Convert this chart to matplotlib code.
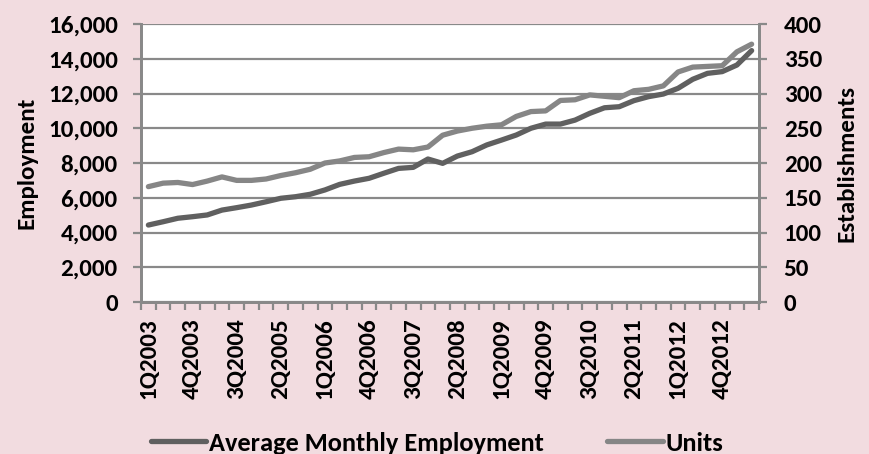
import matplotlib
matplotlib.use("Agg")
import matplotlib.pyplot as plt
from matplotlib.ticker import FuncFormatter, MultipleLocator

plt.rcParams['font.family'] = ['Carlito', 'DejaVu Sans']
plt.rcParams['font.weight'] = 'bold'

# Quarters 1Q2003 .. 2Q2013
quarters = [f"{q}Q{y}" for y in range(2003, 2014) for q in range(1, 5)][:42]

# Average monthly employment (left axis)
employment = [4430, 4620, 4820, 4910, 5010, 5290, 5430, 5580, 5770, 5970,
              6060, 6200, 6450, 6770, 6960, 7120, 7410, 7690, 7750, 8230,
              7980, 8400, 8650, 9040, 9320, 9610, 10000, 10240, 10240, 10470,
              10860, 11180, 11240, 11590, 11820, 11970, 12300, 12820, 13160, 13260,
              13640, 14470]

# Units / establishments (right axis)
units = [166, 171, 172, 169, 174, 180, 175, 175, 177, 182,
         186, 191, 200, 203, 208, 209, 215, 220, 219, 223,
         240, 246, 250, 253, 255, 267, 274, 275, 290, 291,
         298, 296, 294, 304, 306, 311, 331, 338, 339, 340,
         360, 371]

bg = '#F2DCE0'
grid_c = '#898989'
fs = 18

fig = plt.figure(figsize=(8.69, 4.54), dpi=100, facecolor=bg)
ax = fig.add_axes([0.1623, 0.3348, 0.7111, 0.6123])
ax2 = ax.twinx()
x = list(range(len(quarters)))

l1, = ax.plot(x, employment, color='#606060', lw=3.8, solid_capstyle='round',
              solid_joinstyle='round', label='Average Monthly Employment', zorder=3)
l2, = ax2.plot(x, units, color='#868686', lw=3.8, solid_capstyle='round',
               solid_joinstyle='round', label='Units', zorder=3)

ax.set_ylim(0, 16000)
ax2.set_ylim(0, 400)
ax.set_xlim(-0.5, len(quarters) - 0.5)
ax.yaxis.set_major_locator(MultipleLocator(2000))
ax2.yaxis.set_major_locator(MultipleLocator(50))
ax.yaxis.set_major_formatter(FuncFormatter(lambda v, p: f"{int(v):,}"))
ax.grid(axis='y', color=grid_c, lw=1.6)
ax.set_axisbelow(True)

ax.set_xticks(x[::3])
ax.set_xticklabels(quarters[::3], rotation=90, fontsize=fs, fontweight='bold')
ax.set_xticks([i - 0.5 for i in range(len(quarters) + 1)], minor=True)
ax.tick_params(axis='x', which='major', length=0, pad=12)
ax.tick_params(axis='x', which='minor', length=5.5, width=1.6, color=grid_c)
ax.tick_params(axis='y', length=5.8, width=1.6, color=grid_c, labelsize=fs, pad=11)
ax2.tick_params(axis='y', length=5.8, width=1.6, color=grid_c, labelsize=fs, pad=12)
for t in ax.get_yticklabels() + ax2.get_yticklabels():
    t.set_fontweight('bold')

for a in (ax, ax2):
    for s in a.spines.values():
        s.set_color(grid_c)
        s.set_linewidth(2)
    a.spines['top'].set_visible(False)

ax.set_ylabel('Employment', fontsize=fs, fontweight='bold')
ax.yaxis.set_label_coords(-0.168, 0.5)
ax2.set_ylabel('Establishments', fontsize=fs, fontweight='bold')
ax2.yaxis.set_label_coords(1.125, 0.5)

fig.legend(handles=[l1, l2], loc='center', bbox_to_anchor=(0.503, 0.024), ncol=2,
           frameon=False, handlelength=2.1, handletextpad=0.12, borderpad=0,
           columnspacing=2.4, prop={'weight': 'bold', 'size': 19})

fig.savefig('out.png', dpi=100, facecolor=bg)
